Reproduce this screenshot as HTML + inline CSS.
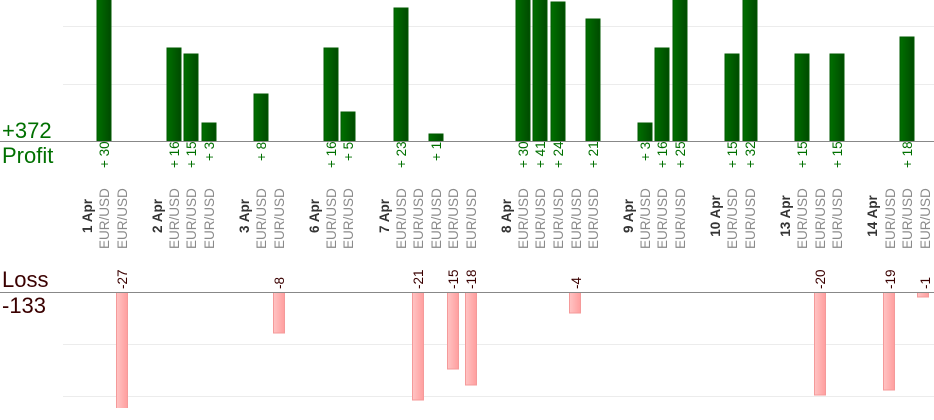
<!DOCTYPE html>
<html><head><meta charset="utf-8"><style>
html,body{margin:0;padding:0;background:#fff;width:934px;height:420px;overflow:hidden}
svg{display:block;font-family:"Liberation Sans",sans-serif}
</style></head><body>
<svg width="934" height="420" viewBox="0 0 934 420" xmlns="http://www.w3.org/2000/svg">
<defs>
<linearGradient id="g" x1="0" x2="1" y1="0" y2="0"><stop offset="0" stop-color="#007000"/><stop offset="1" stop-color="#004a00"/></linearGradient>
<linearGradient id="r" x1="0" x2="1" y1="0" y2="0"><stop offset="0" stop-color="#ffc4c4"/><stop offset="1" stop-color="#ff9e9e"/></linearGradient>
<clipPath id="cp"><rect x="0" y="0" width="934" height="141"/></clipPath>
<clipPath id="cl"><rect x="0" y="292" width="934" height="116"/></clipPath>
</defs>
<g stroke="#ececec" stroke-width="1">
<line x1="63" y1="26.5" x2="934" y2="26.5"/><line x1="63" y1="84.5" x2="934" y2="84.5"/>
<line x1="63" y1="344.5" x2="934" y2="344.5"/><line x1="63" y1="396.5" x2="934" y2="396.5"/>
</g>
<g clip-path="url(#cp)" fill="url(#g)" stroke="#005a00" stroke-width="1">
<rect x="97" y="-33" width="14" height="174"/>
<rect x="167" y="48" width="14" height="93"/>
<rect x="184" y="54" width="14" height="87"/>
<rect x="202" y="123" width="14" height="18"/>
<rect x="254" y="94" width="14" height="47"/>
<rect x="324" y="48" width="14" height="93"/>
<rect x="341" y="112" width="14" height="29"/>
<rect x="394" y="8" width="14" height="133"/>
<rect x="429" y="134" width="14" height="7"/>
<rect x="516" y="-33" width="14" height="174"/>
<rect x="533" y="-100" width="14" height="241"/>
<rect x="551" y="2" width="14" height="139"/>
<rect x="586" y="19" width="14" height="122"/>
<rect x="638" y="123" width="14" height="18"/>
<rect x="655" y="48" width="14" height="93"/>
<rect x="673" y="-5" width="14" height="146"/>
<rect x="725" y="54" width="14" height="87"/>
<rect x="743" y="-45" width="14" height="186"/>
<rect x="795" y="54" width="14" height="87"/>
<rect x="830" y="54" width="14" height="87"/>
<rect x="900" y="37" width="14" height="104"/>
</g>
<g clip-path="url(#cl)" fill="url(#r)" stroke="#f59a9a" stroke-width="1">
<rect x="116.5" y="292" width="11" height="139"/>
<rect x="273.5" y="292" width="11" height="41"/>
<rect x="412.5" y="292" width="11" height="108"/>
<rect x="447.5" y="292" width="11" height="77"/>
<rect x="465.5" y="292" width="11" height="93"/>
<rect x="569.5" y="292" width="11" height="21"/>
<rect x="814.5" y="292" width="11" height="103"/>
<rect x="883.5" y="292" width="11" height="98"/>
<rect x="917.5" y="292" width="11" height="5"/>
</g>
<line x1="0" y1="141.5" x2="934" y2="141.5" stroke="#888" stroke-width="1"/>
<line x1="0" y1="292.5" x2="934" y2="292.5" stroke="#888" stroke-width="1"/>
<text x="2" y="138" font-size="22" fill="#007000">+372</text>
<text x="2" y="163" font-size="22" fill="#007000">Profit</text>
<text x="2" y="287" font-size="22" fill="#3a0000">Loss</text>
<text x="2" y="313" font-size="22" fill="#3a0000">-133</text>
<g font-size="13.5" fill="#007000" xml:space="preserve">
<text transform="translate(109,168) rotate(-90)">+ 30</text>
<text transform="translate(179,168) rotate(-90)">+ 16</text>
<text transform="translate(196,168) rotate(-90)">+ 15</text>
<text transform="translate(214,161) rotate(-90)">+ 3</text>
<text transform="translate(266,161) rotate(-90)">+ 8</text>
<text transform="translate(336,168) rotate(-90)">+ 16</text>
<text transform="translate(353,161) rotate(-90)">+ 5</text>
<text transform="translate(406,168) rotate(-90)">+ 23</text>
<text transform="translate(441,161) rotate(-90)">+ 1</text>
<text transform="translate(528,168) rotate(-90)">+ 30</text>
<text transform="translate(545,168) rotate(-90)">+ 41</text>
<text transform="translate(563,168) rotate(-90)">+ 24</text>
<text transform="translate(598,168) rotate(-90)">+ 21</text>
<text transform="translate(650,161) rotate(-90)">+ 3</text>
<text transform="translate(667,168) rotate(-90)">+ 16</text>
<text transform="translate(685,168) rotate(-90)">+ 25</text>
<text transform="translate(737,168) rotate(-90)">+ 15</text>
<text transform="translate(755,168) rotate(-90)">+ 32</text>
<text transform="translate(807,168) rotate(-90)">+ 15</text>
<text transform="translate(842,168) rotate(-90)">+ 15</text>
<text transform="translate(912,168) rotate(-90)">+ 18</text>
</g>
<g font-size="13.5" fill="#3a0000">
<text transform="translate(127,289) rotate(-90)">-27</text>
<text transform="translate(284,289) rotate(-90)">-8</text>
<text transform="translate(423,289) rotate(-90)">-21</text>
<text transform="translate(458,289) rotate(-90)">-15</text>
<text transform="translate(476,289) rotate(-90)">-18</text>
<text transform="translate(581,289) rotate(-90)">-4</text>
<text transform="translate(825,289) rotate(-90)">-20</text>
<text transform="translate(895,289) rotate(-90)">-19</text>
<text transform="translate(930,289) rotate(-90)">-1</text>
</g>
<g font-size="13.5" font-weight="bold" fill="#333" text-anchor="middle">
<text transform="translate(92,216) rotate(-90)">1 Apr</text>
<text transform="translate(162,216) rotate(-90)">2 Apr</text>
<text transform="translate(249,216) rotate(-90)">3 Apr</text>
<text transform="translate(319,216) rotate(-90)">6 Apr</text>
<text transform="translate(389,216) rotate(-90)">7 Apr</text>
<text transform="translate(511,216) rotate(-90)">8 Apr</text>
<text transform="translate(633,216) rotate(-90)">9 Apr</text>
<text transform="translate(720,216) rotate(-90)">10 Apr</text>
<text transform="translate(790,216) rotate(-90)">13 Apr</text>
<text transform="translate(877,216) rotate(-90)">14 Apr</text>
</g>
<g font-size="13.5" fill="#8a8a8a">
<text transform="translate(109,249) rotate(-90)">EUR/USD</text>
<text transform="translate(127,249) rotate(-90)">EUR/USD</text>
<text transform="translate(179,249) rotate(-90)">EUR/USD</text>
<text transform="translate(196,249) rotate(-90)">EUR/USD</text>
<text transform="translate(214,249) rotate(-90)">EUR/USD</text>
<text transform="translate(266,249) rotate(-90)">EUR/USD</text>
<text transform="translate(284,249) rotate(-90)">EUR/USD</text>
<text transform="translate(336,249) rotate(-90)">EUR/USD</text>
<text transform="translate(353,249) rotate(-90)">EUR/USD</text>
<text transform="translate(406,249) rotate(-90)">EUR/USD</text>
<text transform="translate(423,249) rotate(-90)">EUR/USD</text>
<text transform="translate(441,249) rotate(-90)">EUR/USD</text>
<text transform="translate(458,249) rotate(-90)">EUR/USD</text>
<text transform="translate(476,249) rotate(-90)">EUR/USD</text>
<text transform="translate(528,249) rotate(-90)">EUR/USD</text>
<text transform="translate(545,249) rotate(-90)">EUR/USD</text>
<text transform="translate(563,249) rotate(-90)">EUR/USD</text>
<text transform="translate(581,249) rotate(-90)">EUR/USD</text>
<text transform="translate(598,249) rotate(-90)">EUR/USD</text>
<text transform="translate(650,249) rotate(-90)">EUR/USD</text>
<text transform="translate(667,249) rotate(-90)">EUR/USD</text>
<text transform="translate(685,249) rotate(-90)">EUR/USD</text>
<text transform="translate(737,249) rotate(-90)">EUR/USD</text>
<text transform="translate(755,249) rotate(-90)">EUR/USD</text>
<text transform="translate(807,249) rotate(-90)">EUR/USD</text>
<text transform="translate(825,249) rotate(-90)">EUR/USD</text>
<text transform="translate(842,249) rotate(-90)">EUR/USD</text>
<text transform="translate(895,249) rotate(-90)">EUR/USD</text>
<text transform="translate(912,249) rotate(-90)">EUR/USD</text>
<text transform="translate(930,249) rotate(-90)">EUR/USD</text>
</g>
</svg>
</body></html>
